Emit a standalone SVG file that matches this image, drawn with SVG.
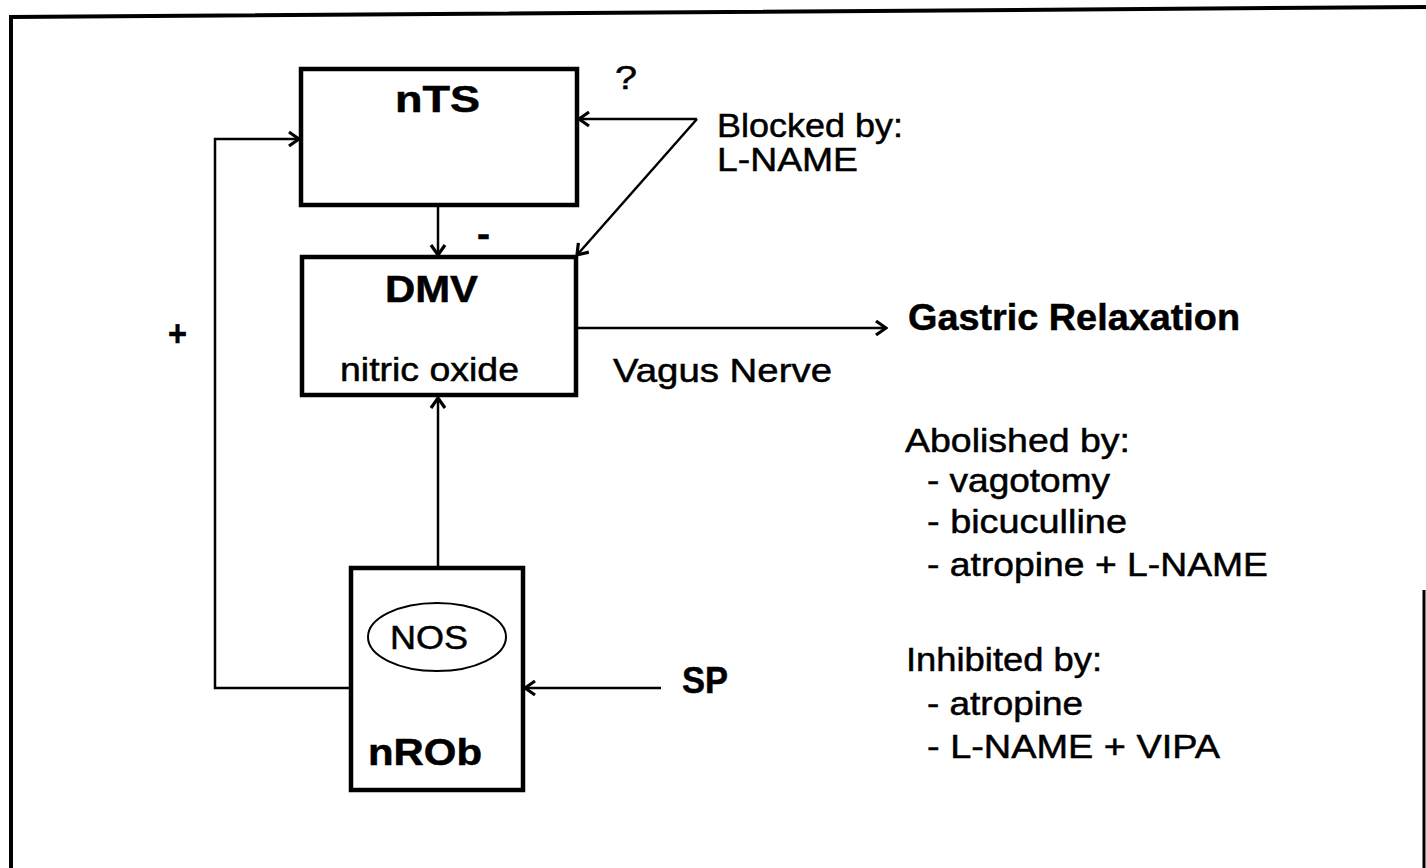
<svg xmlns="http://www.w3.org/2000/svg" width="1426" height="868" viewBox="0 0 1426 868">
<defs>
<style>
text{font-family:"Liberation Sans",Arial,sans-serif;fill:#000;stroke:#000;stroke-width:0.5}
.b{font-weight:bold;font-size:36px}
.r{font-size:33px}
.box{fill:#fff;stroke:#000;stroke-width:4.5}
.c{fill:none;stroke:#000;stroke-width:2.5}
</style>
<marker id="ah" markerUnits="userSpaceOnUse" markerWidth="18" markerHeight="18" viewBox="0 0 18 18" refX="16" refY="9" orient="auto">
<path d="M6,2 L16,9 L6,16" fill="none" stroke="#000" stroke-width="3.2"/>
</marker>
</defs>
<rect width="1426" height="868" fill="#fff"/>
<g id="frame">
<path d="M11,868 L11,17 L1426,7" fill="none" stroke="#000" stroke-width="4"/>
<line x1="1424" y1="590" x2="1424" y2="868" stroke="#000" stroke-width="3"/>
</g>
<g id="connectors">
<path class="c" d="M351,688 L215,688 L215,139 L299,139" marker-end="url(#ah)"/>
<path class="c" d="M438,568 L438,398" marker-end="url(#ah)"/>
<path class="c" d="M438,207 L438,255" marker-end="url(#ah)"/>
<path class="c" d="M697,119 L579,119" marker-end="url(#ah)"/>
<path class="c" d="M697,119 L577,255" marker-end="url(#ah)"/>
<path class="c" d="M661,688 L525,688" marker-end="url(#ah)"/>
<path class="c" d="M578,328 L886,328" marker-end="url(#ah)"/>
</g>
<g id="nTS">
<rect class="box" x="301" y="69" width="276" height="136"/>
<text class="b" x="395" y="112" textLength="85" lengthAdjust="spacingAndGlyphs">nTS</text>
</g>
<g id="DMV">
<rect class="box" x="302" y="257" width="274" height="138"/>
<text class="b" x="385" y="302" textLength="93" lengthAdjust="spacingAndGlyphs">DMV</text>
<text class="r" x="340" y="381" textLength="179" lengthAdjust="spacingAndGlyphs">nitric oxide</text>
</g>
<g id="nROb">
<rect class="box" x="351" y="568" width="172" height="222"/>
<ellipse cx="437" cy="637" rx="69" ry="34" fill="none" stroke="#000" stroke-width="2"/>
<text class="r" x="390" y="649" textLength="78" lengthAdjust="spacingAndGlyphs">NOS</text>
<text class="b" x="368" y="765" textLength="114" lengthAdjust="spacingAndGlyphs">nROb</text>
</g>
<g id="labels">
<text class="r" x="615" y="89" textLength="22" lengthAdjust="spacingAndGlyphs">?</text>
<text class="r" x="717" y="137" textLength="186" lengthAdjust="spacingAndGlyphs">Blocked by:</text>
<text class="r" x="717" y="171" textLength="141" lengthAdjust="spacingAndGlyphs">L-NAME</text>
<text class="b" x="477" y="246" textLength="13" lengthAdjust="spacingAndGlyphs">-</text>
<text class="b" x="168" y="346" textLength="19" lengthAdjust="spacingAndGlyphs">+</text>
<text class="r" x="613" y="382" textLength="219" lengthAdjust="spacingAndGlyphs">Vagus Nerve</text>
<text class="b" x="908" y="330" textLength="332" lengthAdjust="spacingAndGlyphs">Gastric Relaxation</text>
<text class="b" x="682" y="693" textLength="46" lengthAdjust="spacingAndGlyphs">SP</text>
</g>
<g id="abolished">
<text class="r" x="905" y="452" textLength="225" lengthAdjust="spacingAndGlyphs">Abolished by:</text>
<text class="r" x="927" y="492" textLength="183" lengthAdjust="spacingAndGlyphs">- vagotomy</text>
<text class="r" x="927" y="533" textLength="200" lengthAdjust="spacingAndGlyphs">- bicuculline</text>
<text class="r" x="927" y="576" textLength="341" lengthAdjust="spacingAndGlyphs">- atropine + L-NAME</text>
</g>
<g id="inhibited">
<text class="r" x="906" y="671" textLength="196" lengthAdjust="spacingAndGlyphs">Inhibited by:</text>
<text class="r" x="927" y="715" textLength="156" lengthAdjust="spacingAndGlyphs">- atropine</text>
<text class="r" x="927" y="758" textLength="293" lengthAdjust="spacingAndGlyphs">- L-NAME + VIPA</text>
</g>
</svg>
